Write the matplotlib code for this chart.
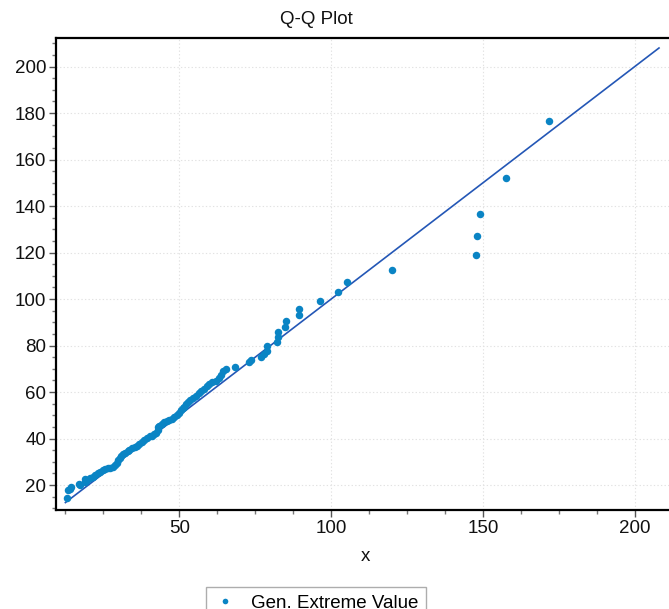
import matplotlib
matplotlib.use("Agg")
import matplotlib.pyplot as plt
from matplotlib.ticker import MultipleLocator

plt.rcParams['font.family'] = ['Liberation Sans', 'DejaVu Sans']

# Theoretical (x) vs sample quantiles (y)
qq_x = [12.9, 13.4, 14.0, 14.5, 16.9, 17.2, 18.9, 18.9, 19.5, 20.5, 21.6, 22.3,
        23.3, 24.0, 24.9, 25.5, 26.5, 27.2, 28.2, 28.8, 29.4, 29.8, 30.4, 30.9,
        31.4, 32.2, 33.0, 33.6, 34.4, 35.3, 36.0, 36.9, 37.7, 38.5, 39.3, 40.2,
        41.0, 41.8, 42.5, 42.9, 43.1, 43.4, 44.2, 45.1, 46.0, 46.7, 47.6, 48.4,
        49.2, 50.0, 50.6, 51.1, 51.7, 52.2, 53.0, 53.6, 54.4, 55.5, 56.5, 57.3,
        58.2, 59.0, 59.8, 60.9, 62.0, 63.1, 63.6, 64.5, 65.3, 68.3, 72.9, 73.5,
        76.8, 77.8, 78.8, 78.8, 82.2, 82.4, 82.5, 84.7, 85.0, 89.5, 89.5, 96.2,
        102.4, 105.3, 120.1, 147.6, 148.2, 148.9, 157.7, 171.8]
qq_y = [14.6, 17.9, 18.5, 19.3, 20.3, 20.0, 21.5, 22.5, 22.2, 23.0, 23.6, 24.2,
        25.0, 25.6, 26.3, 26.8, 27.2, 27.5, 28.0, 28.6, 29.5, 30.7, 31.5, 32.5,
        33.5, 34.0, 34.6, 35.2, 35.8, 36.5, 37.0, 37.8, 38.5, 39.3, 40.2, 41.0,
        41.3, 41.8, 42.5, 43.6, 44.8, 45.6, 46.2, 47.0, 47.6, 48.1, 48.6, 49.3,
        50.2, 51.2, 52.2, 53.0, 53.8, 54.8, 55.6, 56.5, 57.6, 58.5, 59.6, 60.5,
        61.5, 62.5, 63.4, 64.4, 64.6, 65.9, 67.3, 69.0, 70.0, 71.0, 72.9, 74.0,
        75.0, 76.4, 77.8, 79.7, 81.7, 83.6, 85.8, 87.9, 90.4, 93.1, 95.7, 99.0,
        103.1, 107.3, 112.7, 118.8, 127.0, 136.8, 152.2, 176.8]
ref_line = [12.5, 208.0]

series_name = "Gen. Extreme Value"
title = "Q-Q Plot"
xlabel = "x"

W, H = 669, 609
fig = plt.figure(figsize=(W / 100, H / 100), dpi=100)
ax = fig.add_axes([56 / W, 1 - 510 / H, 1 - 56 / W + 0.01, (510 - 38) / H])

ax.plot(ref_line, ref_line, color='#2457b6', lw=1.2, zorder=2)
pts, = ax.plot(qq_x, qq_y, 'o', color='#0a84c4', ms=5.4, mec='none', zorder=3,
               label=series_name)

ax.set_xlim(9.4, 213.5)
ax.set_ylim(9.3, 212.3)
ax.xaxis.set_major_locator(MultipleLocator(50))
ax.xaxis.set_minor_locator(MultipleLocator(12.5))
ax.yaxis.set_major_locator(MultipleLocator(20))
ax.yaxis.set_minor_locator(MultipleLocator(5))
ax.set_xticks([50, 100, 150, 200])
ax.set_yticks([20, 40, 60, 80, 100, 120, 140, 160, 180, 200])

ax.grid(True, which='major', color='#e2e2e2', ls=(0, (1.2, 2.0)), lw=0.8)
ax.set_axisbelow(True)
for s in ['left', 'bottom', 'top']:
    ax.spines[s].set_linewidth(1.6)
    ax.spines[s].set_color('black')
ax.spines['right'].set_visible(False)

ax.tick_params(which='major', direction='out', length=5, width=1, color='#555555',
               labelsize=13.5, labelcolor='#111111', pad=2)
ax.tick_params(which='minor', direction='out', length=3, width=1, color='#777777')

ax.set_xlabel(xlabel, fontsize=13.5, labelpad=8, color='#111111')
fig.text(316 / W, 1 - 19 / H, title, ha='center', va='center', fontsize=13.5,
         color='#111111')

leg = fig.legend(handles=[pts], loc='upper center',
                 bbox_to_anchor=(316 / W, 1 - 587 / H), frameon=True,
                 fancybox=False, edgecolor='#999999', fontsize=13.5,
                 markerscale=0.75, handlelength=1.2, borderpad=0.4,
                 borderaxespad=0)
leg.get_frame().set_linewidth(1.0)

fig.savefig("out.png", dpi=100)
